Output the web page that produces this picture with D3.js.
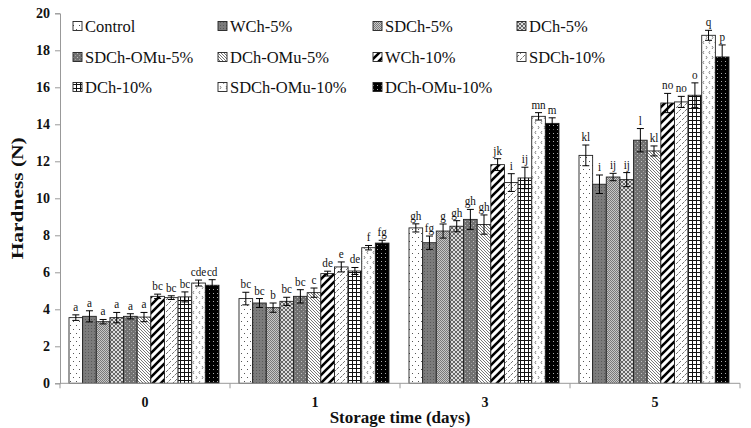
<!DOCTYPE html>
<html>
<head>
<meta charset="utf-8">
<script src="https://cdn.jsdelivr.net/npm/d3@7"></script>
<style>
body { margin: 0; background: #fff; }
text { font-family: "Liberation Serif", "Times New Roman", serif; }
</style>
</head>
<body>
<div id="box1"></div>
<script>
var days = ["0", "1", "3", "5"];
var series = ["Control", "WCh-5%", "SDCh-5%", "DCh-5%", "SDCh-OMu-5%", "DCh-OMu-5%",
              "WCh-10%", "SDCh-10%", "DCh-10%", "SDCh-OMu-10%", "DCh-OMu-10%"];
var yTicks = [0, 2, 4, 6, 8, 10, 12, 14, 16, 18, 20];

var day0 = [3.55, 3.62, 3.33, 3.55, 3.62, 3.58, 4.70, 4.63, 4.67, 5.42, 5.30];
var day1 = [4.58, 4.34, 4.09, 4.43, 4.70, 4.90, 5.93, 6.29, 6.07, 7.33, 7.58];
var day3 = [8.40, 7.60, 8.23, 8.49, 8.86, 8.58, 11.82, 10.85, 11.10, 14.43, 14.05];
var day5 = [12.32, 10.76, 11.15, 11.01, 13.14, 12.56, 15.15, 15.21, 15.57, 18.81, 17.64];

var err0 = [0.15, 0.30, 0.12, 0.28, 0.14, 0.25, 0.12, 0.10, 0.27, 0.16, 0.30];
var err1 = [0.34, 0.24, 0.25, 0.22, 0.36, 0.25, 0.13, 0.27, 0.19, 0.12, 0.15];
var err3 = [0.22, 0.36, 0.38, 0.30, 0.54, 0.52, 0.32, 0.48, 0.58, 0.20, 0.30];
var err5 = [0.56, 0.50, 0.20, 0.38, 0.63, 0.27, 0.52, 0.30, 0.67, 0.27, 0.65];

var lab0 = ["a", "a", "a", "a", "a", "a", "bc", "bc", "bc", "cde", "cd"];
var lab1 = ["bc", "bc", "b", "bc", "bc", "c", "de", "e", "de", "f", "fg"];
var lab3 = ["gh", "fg", "g", "gh", "gh", "gh", "jk", "i", "ij", "mn", "m"];
var lab5 = ["kl", "i", "ij", "ij", "l", "kl", "no", "no", "o", "q", "p"];

var values = [day0, day1, day3, day5];
var errors = [err0, err1, err3, err5];
var letters = [lab0, lab1, lab3, lab5];

document.addEventListener("DOMContentLoaded", function(e) {
    chart1();
});

function makePatterns(defs) {
    function pat(id, w, h) {
        return defs.append("pattern").attr("id", id)
            .attr("patternUnits", "userSpaceOnUse")
            .attr("width", w).attr("height", h);
    }
    var p;
    // Control: white with sparse dots
    p = pat("p0", 6, 8);
    p.append("rect").attr("width", 6).attr("height", 8).attr("fill", "#fff");
    p.append("rect").attr("x", 1).attr("y", 1).attr("width", 1).attr("height", 1).attr("fill", "#555");
    p.append("rect").attr("x", 4).attr("y", 5).attr("width", 1).attr("height", 1).attr("fill", "#555");
    // WCh-5%: dark grey fine dots
    p = pat("p1", 3, 3);
    p.append("rect").attr("width", 3).attr("height", 3).attr("fill", "#7c7c7c");
    p.append("rect").attr("x", 1).attr("y", 1).attr("width", 1).attr("height", 1).attr("fill", "#5a5a5a");
    // SDCh-5%: light checker
    p = pat("p2", 2, 2);
    p.append("rect").attr("width", 2).attr("height", 2).attr("fill", "#c8c8c8");
    p.append("rect").attr("width", 1).attr("height", 1).attr("fill", "#7a7a7a");
    p.append("rect").attr("x", 1).attr("y", 1).attr("width", 1).attr("height", 1).attr("fill", "#7a7a7a");
    // DCh-5%: diamond cross
    p = pat("p3", 4, 4);
    p.append("rect").attr("width", 4).attr("height", 4).attr("fill", "#dcdcdc");
    p.append("path").attr("d", "M0,0L4,4M4,0L0,4").attr("stroke", "#666").attr("stroke-width", 1);
    // SDCh-OMu-5%: dark grey with light dots
    p = pat("p4", 4, 4);
    p.append("rect").attr("width", 4).attr("height", 4).attr("fill", "#727272");
    p.append("rect").attr("x", 1).attr("y", 1).attr("width", 1).attr("height", 1).attr("fill", "#c0c0c0");
    p.append("rect").attr("x", 3).attr("y", 3).attr("width", 1).attr("height", 1).attr("fill", "#a0a0a0");
    // DCh-OMu-5%: dense thin back-diagonals
    p = pat("p5", 3, 3);
    p.append("rect").attr("width", 3).attr("height", 3).attr("fill", "#fff");
    p.append("path").attr("d", "M0,0L3,3M-1,2L1,4M2,-1L4,1").attr("stroke", "#666").attr("stroke-width", 0.9);
    // WCh-10%: thick black diagonals
    p = pat("p6", 8, 8);
    p.append("rect").attr("width", 8).attr("height", 8).attr("fill", "#fff");
    p.append("path").attr("d", "M-2,10L10,-2M-2,2L2,-2M6,10L10,6").attr("stroke", "#000").attr("stroke-width", 2.6);
    // SDCh-10%: short dashed diagonals
    p = pat("p7", 6, 6);
    p.append("rect").attr("width", 6).attr("height", 6).attr("fill", "#fff");
    p.append("path").attr("d", "M0.5,3.5L3,1M3.5,6.5L6,4").attr("stroke", "#777").attr("stroke-width", 1);
    // DCh-10%: grid
    p = pat("p8", 4, 4);
    p.append("rect").attr("width", 4).attr("height", 4).attr("fill", "#fff");
    p.append("path").attr("d", "M0,0.5H4M0.5,0V4").attr("stroke", "#111").attr("stroke-width", 1);
    // SDCh-OMu-10%: white with zigzag marks
    p = pat("p9", 6, 10);
    p.append("rect").attr("width", 6).attr("height", 10).attr("fill", "#fff");
    p.append("path").attr("d", "M2,1L1,2.5L2,4M4,6L5,7.5L4,9").attr("stroke", "#666").attr("stroke-width", 0.8).attr("fill", "none");
    // DCh-OMu-10%: black with white dots
    p = pat("p10", 4, 4);
    p.append("rect").attr("width", 4).attr("height", 4).attr("fill", "#000");
    p.append("rect").attr("x", 1).attr("y", 1).attr("width", 1).attr("height", 1).attr("fill", "#aaa");
}

function chart1() {
    var width = 751;
    var height = 428;
    var svg = d3.select("#box1")
        .append("svg")
        .attr("width", width)
        .attr("height", height);

    makePatterns(svg.append("defs"));

    var left = 60, right = 740, top = 13.3, bottom = 383.3;

    var y = d3.scaleLinear().domain([0, 20]).range([bottom, top]);
    var x0 = d3.scaleBand().domain(days).range([left, right]);
    var x1 = d3.scaleBand().domain(series).range([9, x0.bandwidth() - 11]);

    // y axis
    var yAxis = svg.append("g")
        .attr("transform", "translate(" + left + ",0)")
        .call(d3.axisLeft(y).tickValues(yTicks).tickSize(5).tickPadding(5));
    yAxis.select(".domain").attr("stroke", "#999");
    yAxis.selectAll(".tick line").attr("stroke", "#999");
    yAxis.selectAll(".tick text")
        .attr("font-family", "Liberation Serif")
        .attr("font-weight", "bold")
        .attr("font-size", 14)
        .attr("fill", "#111");

    // bars
    for (var g = 0; g < days.length; g++) {
        var gx = x0(days[g]);
        for (var i = 0; i < series.length; i++) {
            var v = values[g][i];
            var er = errors[g][i];
            var bx = gx + x1(series[i]);
            var bw = x1.bandwidth();
            svg.append("rect")
                .attr("x", bx)
                .attr("y", y(v))
                .attr("width", bw)
                .attr("height", y(0) - y(v))
                .attr("fill", "url(#p" + i + ")")
                .attr("stroke", "#222")
                .attr("stroke-width", 0.9);

            var cx = bx + bw / 2;
            svg.append("line")
                .attr("x1", cx).attr("x2", cx)
                .attr("y1", y(v + er)).attr("y2", y(v - er))
                .attr("stroke", "#000").attr("stroke-width", 1);
            svg.append("line")
                .attr("x1", cx - 3.5).attr("x2", cx + 3.5)
                .attr("y1", y(v + er)).attr("y2", y(v + er))
                .attr("stroke", "#000").attr("stroke-width", 1);
            svg.append("line")
                .attr("x1", cx - 3.5).attr("x2", cx + 3.5)
                .attr("y1", y(v - er)).attr("y2", y(v - er))
                .attr("stroke", "#000").attr("stroke-width", 1);

            // significance letters, a bit condensed like the original
            svg.append("text")
                .attr("transform", "translate(" + cx + "," + (y(v + er) - 4) + ") scale(0.86,1)")
                .attr("text-anchor", "middle")
                .attr("font-size", 13)
                .attr("fill", "#111")
                .text(letters[g][i]);
        }
    }

    // x axis
    svg.append("line")
        .attr("x1", left).attr("x2", right)
        .attr("y1", bottom).attr("y2", bottom)
        .attr("stroke", "#999");
    for (var k = 0; k <= days.length; k++) {
        var tx = left + k * x0.step();
        svg.append("line")
            .attr("x1", tx).attr("x2", tx)
            .attr("y1", bottom).attr("y2", bottom + 5)
            .attr("stroke", "#999");
    }
    for (var d = 0; d < days.length; d++) {
        svg.append("text")
            .attr("x", x0(days[d]) + x0.bandwidth() / 2)
            .attr("y", 407)
            .attr("text-anchor", "middle")
            .attr("font-weight", "bold")
            .attr("font-size", 14)
            .attr("fill", "#111")
            .text(days[d]);
    }

    // axis titles
    svg.append("text")
        .attr("x", (left + right) / 2)
        .attr("y", 423)
        .attr("text-anchor", "middle")
        .attr("font-weight", "bold")
        .attr("font-size", 17)
        .attr("fill", "#111")
        .text("Storage time (days)");
    svg.append("text")
        .attr("transform", "translate(23," + ((top + bottom) / 2) + ") rotate(-90)")
        .attr("text-anchor", "middle")
        .attr("font-weight", "bold")
        .attr("font-size", 17)
        .attr("textLength", 122)
        .attr("lengthAdjust", "spacingAndGlyphs")
        .attr("fill", "#111")
        .text("Hardness (N)");

    // legend
    var colX = [73, 218, 373, 517];
    var rowY = [26, 57, 87];
    for (var s = 0; s < series.length; s++) {
        var lx = colX[s % 4];
        var ly = rowY[Math.floor(s / 4)];
        svg.append("rect")
            .attr("x", lx).attr("y", ly - 4.5)
            .attr("width", 9).attr("height", 9)
            .attr("fill", "url(#p" + s + ")")
            .attr("stroke", "#222")
            .attr("stroke-width", 0.9);
        svg.append("text")
            .attr("x", lx + 12)
            .attr("y", ly + 5.5)
            .attr("font-size", 16.5)
            .attr("fill", "#111")
            .text(series[s]);
    }
}
</script>
</body>
</html>
